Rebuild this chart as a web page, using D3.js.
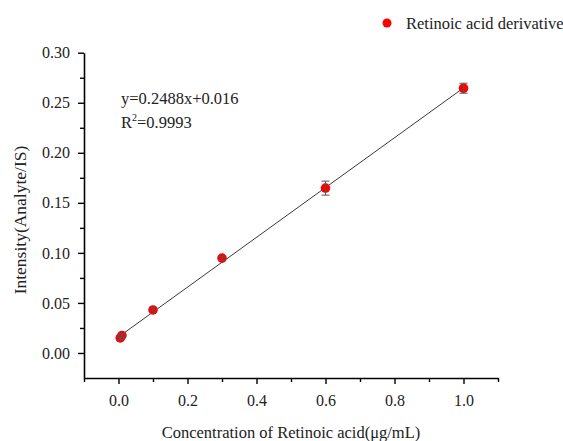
<!DOCTYPE html>
<html>
<head>
<meta charset="utf-8">
<script src="https://cdn.jsdelivr.net/npm/d3@7"></script>
<style>
  body { margin: 0; background: #fff; }
  text { font-family: "Liberation Serif", "Times New Roman", serif; }
</style>
</head>
<body>
<div id="chart"></div>
<script>
// data
var concentrations = [0.005, 0.01, 0.1, 0.3, 0.6, 1.0];
var intensities = [0.0150, 0.0175, 0.0430, 0.0948, 0.1647, 0.2645];
var errors = [0.002, 0.002, 0.002, 0.002, 0.007, 0.005];
var fitSlope = 0.2488, fitIntercept = 0.016;
var xTicks = [0.0, 0.2, 0.4, 0.6, 0.8, 1.0];
var yTicks = [0.00, 0.05, 0.10, 0.15, 0.20, 0.25, 0.30];

var width = 563, height = 441;
var margin = {top: 52, right: 65, bottom: 63, left: 84};

var svg = d3.select("#chart").append("svg")
    .attr("width", width)
    .attr("height", height);

var x = d3.scaleLinear().domain([-0.1, 1.1]).range([margin.left, width - margin.right]);
var y = d3.scaleLinear().domain([-0.025, 0.30]).range([height - margin.bottom, margin.top + 0.7]);

// x axis, major + minor ticks
svg.append("g")
    .attr("transform", "translate(0," + (height - margin.bottom) + ")")
    .call(d3.axisBottom(x).tickValues(xTicks).tickFormat(d3.format(".1f")).tickSize(6).tickSizeOuter(0).tickPadding(11));
svg.append("g")
    .attr("transform", "translate(0," + (height - margin.bottom) + ")")
    .call(d3.axisBottom(x).tickValues(d3.range(-0.1, 1.101, 0.2)).tickFormat("").tickSize(4).tickSizeOuter(0))
    .select(".domain").remove();

svg.append("g")
    .attr("transform", "translate(" + margin.left + ",0)")
    .call(d3.axisLeft(y).tickValues(yTicks).tickFormat(d3.format(".2f")).tickSize(6).tickSizeOuter(0).tickPadding(8));
svg.append("g")
    .attr("transform", "translate(" + margin.left + ",0)")
    .call(d3.axisLeft(y).tickValues(d3.range(0.025, 0.3, 0.05)).tickFormat("").tickSize(4).tickSizeOuter(0))
    .select(".domain").remove();

svg.selectAll(".domain").attr("stroke-width", 1.6);
svg.selectAll(".tick line").attr("stroke-width", 1.4);
svg.selectAll(".tick text")
    .attr("font-family", "Liberation Serif, serif")
    .attr("font-size", 16)
    .attr("fill", "#222");

// axis titles
svg.append("text")
    .attr("x", 291)
    .attr("y", 438)
    .attr("text-anchor", "middle")
    .attr("font-size", 16.5)
    .attr("fill", "#222")
    .text("Concentration of Retinoic acid(\u03bcg/mL)");

svg.append("text")
    .attr("transform", "translate(26,220) rotate(-90)")
    .attr("text-anchor", "middle")
    .attr("font-size", 17.5)
    .attr("fill", "#222")
    .text("Intensity(Analyte/IS)");

// fit line
var fitX = [0.005, 1.0];
svg.append("line")
    .attr("x1", x(fitX[0]))
    .attr("y1", y(fitSlope * fitX[0] + fitIntercept))
    .attr("x2", x(fitX[1]))
    .attr("y2", y(fitSlope * fitX[1] + fitIntercept))
    .attr("stroke", "#222")
    .attr("stroke-width", 0.9);

// points
svg.selectAll(".pt")
    .data(concentrations)
    .enter().append("circle")
    .attr("class", "pt")
    .attr("cx", function(d) { return x(d); })
    .attr("cy", function(d, i) { return y(intensities[i]); })
    .attr("r", 4.8)
    .attr("fill", "#ff0000");

// error bars
var eb = svg.selectAll(".eb")
    .data(concentrations)
    .enter().append("g")
    .attr("class", "eb")
    .attr("stroke", "#555")
    .attr("stroke-width", 1);
eb.append("line")
    .attr("x1", function(d) { return x(d); })
    .attr("x2", function(d) { return x(d); })
    .attr("y1", function(d, i) { return y(intensities[i] - errors[i]); })
    .attr("y2", function(d, i) { return y(intensities[i] + errors[i]); });
eb.append("line")
    .attr("x1", function(d) { return x(d) - 4; })
    .attr("x2", function(d) { return x(d) + 4; })
    .attr("y1", function(d, i) { return y(intensities[i] + errors[i]); })
    .attr("y2", function(d, i) { return y(intensities[i] + errors[i]); });
eb.append("line")
    .attr("x1", function(d) { return x(d) - 4; })
    .attr("x2", function(d) { return x(d) + 4; })
    .attr("y1", function(d, i) { return y(intensities[i] - errors[i]); })
    .attr("y2", function(d, i) { return y(intensities[i] - errors[i]); });

// equation
var eq = svg.append("g").attr("font-size", 16.5).attr("fill", "#222");
eq.append("text").attr("x", 121).attr("y", 104).text("y=" + fitSlope + "x+" + fitIntercept);
var r2 = eq.append("text").attr("x", 121).attr("y", 128);
r2.append("tspan").text("R");
r2.append("tspan").attr("font-size", 10).attr("dy", -7).text("2");
r2.append("tspan").attr("dy", 7).text("=0.9993");

// legend
var legend = svg.append("g");
legend.append("circle").attr("cx", 387).attr("cy", 23).attr("r", 4.5).attr("fill", "#ff0000");
legend.append("text").attr("x", 406).attr("y", 29).attr("font-size", 16.5).attr("fill", "#222").text("Retinoic acid derivative");
</script>
</body>
</html>
